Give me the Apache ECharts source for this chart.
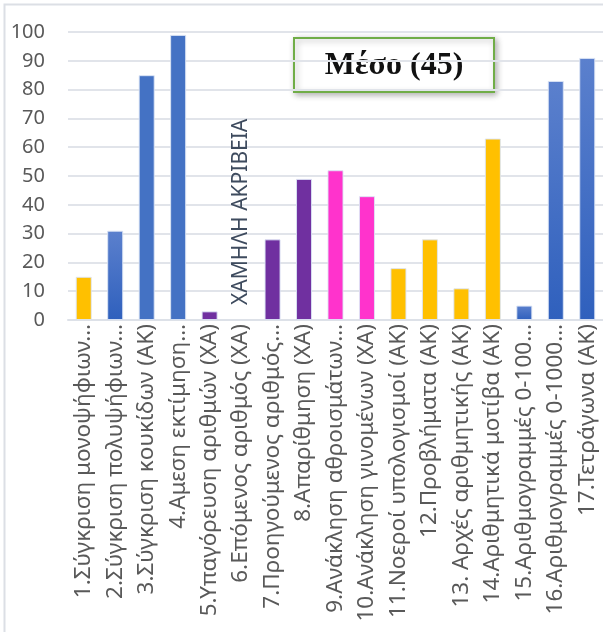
<!DOCTYPE html>
<html>
<head>
<meta charset="utf-8">
<script src="https://cdn.jsdelivr.net/npm/echarts@6/dist/echarts.min.js"></script>
<style>
  html, body { margin: 0; padding: 0; background: #ffffff; }
  #chart { width: 603px; height: 632px; }
</style>
</head>
<body>
<div id="chart"></div>
<script>
// Task categories (labels as shown, long ones shortened with an ellipsis)
const categories = [
  '1.Σύγκριση μονοψήφιων…',
  '2.Σύγκριση πολυψήφιων…',
  '3.Σύγκριση κουκίδων (ΑΚ)',
  '4.Αμεση εκτίμηση…',
  '5.Υπαγόρευση αριθμών (ΧΑ)',
  '6.Επόμενος αριθμός (ΧΑ)',
  '7.Προηγούμενος αριθμός…',
  '8.Απαρίθμηση (ΧΑ)',
  '9.Ανάκληση αθροισμάτων…',
  '10.Ανάκληση γινομένων (ΧΑ)',
  '11.Νοεροί υπολογισμοί (ΑΚ)',
  '12.Προβλήματα (ΑΚ)',
  '13. Αρχές αριθμητικής (ΑΚ)',
  '14.Αριθμητικά μοτίβα (ΑΚ)',
  '15.Αριθμογραμμές 0-100…',
  '16.Αριθμογραμμές 0-1000…',
  '17.Τετράγωνα (ΑΚ)'
];

// Score for each task
const values = [15, 31, 85, 99, 3, 0, 28, 49, 52, 43, 18, 28, 11, 63, 5, 83, 91];

// Group each task belongs to
const groups = ['A', 'Bg', 'B', 'B', 'C', 'C', 'C', 'C', 'D', 'D', 'A', 'A', 'A', 'A', 'Bg', 'Bg', 'Bg'];

// Y axis range and step
const yMin = 0, yMax = 100, yStep = 10;

// Annotation texts
const meanText = 'Μέσο (45)';
const lowText = 'ΧΑΜΗΛΗ ΑΚΡΙΒΕΙΑ';

const blueGrad = new echarts.graphic.LinearGradient(0, 0, 0, 1, [
  { offset: 0, color: '#5b80cd' },
  { offset: 1, color: '#2f60bd' }
]);
const palette = {
  A: '#FFC000',
  B: '#4472C4',
  Bg: blueGrad,
  C: '#7030A0',
  D: '#FF33CC'
};

const seriesData = values.map((v, i) => {
  const item = {
    value: v,
    itemStyle: { color: palette[groups[i]] }
  };
  if (i === 5) {
    item.itemStyle.borderWidth = 0;
    item.label = {
      show: true,
      formatter: lowText,
      position: 'top',
      distance: 15,
      rotate: 90,
      align: 'left',
      verticalAlign: 'middle',
      fontSize: 21,
      fontFamily: 'Noto Sans',
      color: '#3e4b5e'
    };
  }
  return item;
});

const chart = echarts.init(document.getElementById('chart'), null, { renderer: 'canvas' });

chart.setOption({
  animation: false,
  backgroundColor: '#ffffff',
  grid: { left: 68, right: -5, top: 32, bottom: 312, containLabel: false },
  xAxis: {
    type: 'category',
    data: categories,
    axisTick: { show: false },
    axisLine: { show: true, lineStyle: { color: '#dde1e8', width: 2 } },
    axisLabel: {
      interval: 0,
      rotate: 90,
      margin: 4,
      fontSize: 22.5,
      fontFamily: 'Noto Sans',
      color: '#595959'
    }
  },
  yAxis: {
    type: 'value',
    min: yMin,
    max: yMax,
    interval: yStep,
    axisLine: { show: false },
    axisTick: { show: false },
    splitLine: { lineStyle: { color: '#e1e4ea', width: 2 } },
    axisLabel: {
      margin: 23,
      fontSize: 20,
      fontFamily: 'Noto Sans',
      color: '#595959'
    }
  },
  series: [{
    type: 'bar',
    data: seriesData,
    barWidth: 16,
    itemStyle: { borderColor: 'rgba(220,228,245,0.9)', borderWidth: 1 }
  }],
  graphic: [
    {
      type: 'rect',
      shape: { x: 4.5, y: 4.5, width: 700, height: 700 },
      style: { fill: null, stroke: '#dcdfe5', lineWidth: 2 },
      silent: true
    },
    {
      type: 'group',
      left: 293,
      top: 37,
      children: [
        {
          type: 'rect',
          shape: { x: 0, y: 0, width: 200, height: 54 },
          style: {
            fill: '#ffffff',
            stroke: '#70AD47',
            lineWidth: 2,
            shadowBlur: 6,
            shadowOffsetX: 2,
            shadowOffsetY: 2,
            shadowColor: 'rgba(0,0,0,0.3)'
          }
        },
        {
          type: 'text',
          x: 100,
          y: 28,
          style: {
            text: meanText,
            font: 'bold 32px "Liberation Serif"',
            fill: '#111111',
            align: 'center',
            verticalAlign: 'middle'
          }
        }
      ]
    }
  ]
});
</script>
</body>
</html>
